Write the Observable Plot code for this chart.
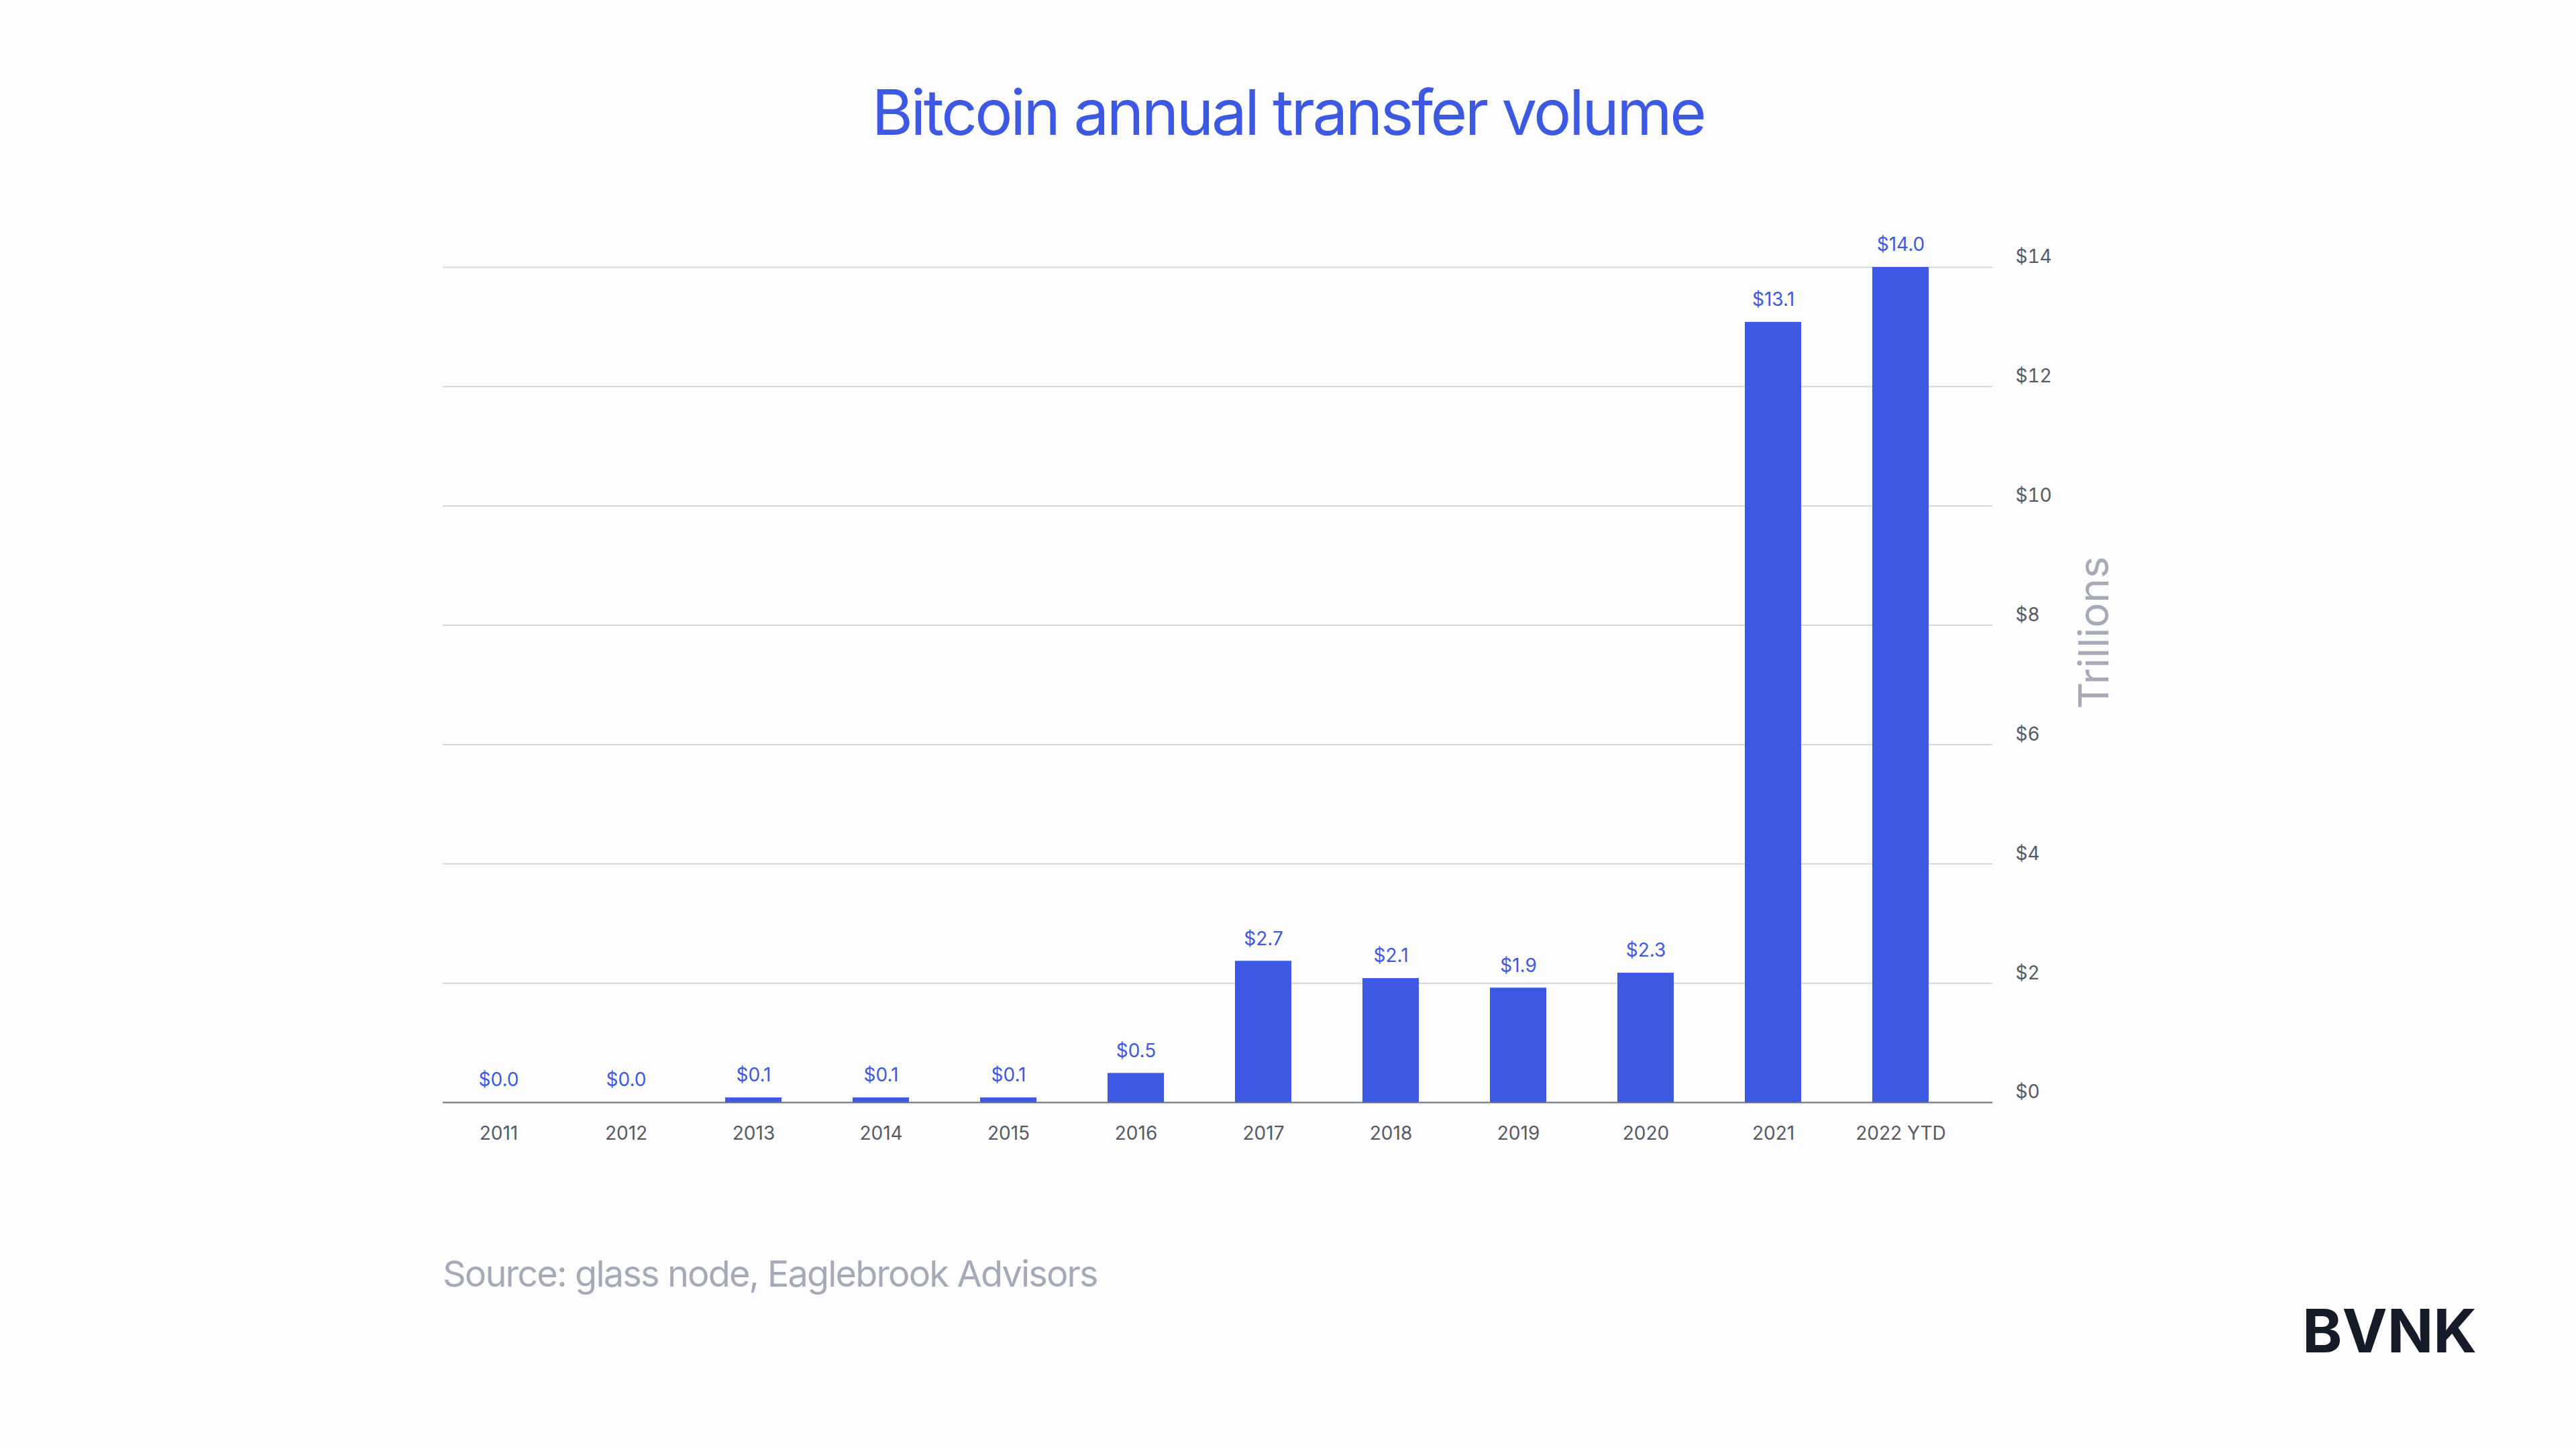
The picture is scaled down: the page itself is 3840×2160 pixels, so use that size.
<!DOCTYPE html>
<html>
<head>
<meta charset="utf-8">
<script src="https://cdn.jsdelivr.net/npm/d3@7"></script>
<script src="https://cdn.jsdelivr.net/npm/@observablehq/plot@0.6"></script>
<style>
  body { margin: 0; background: #ffffff; }
  #page { position: relative; width: 3840px; height: 2160px; background: #fdfdfe; font-family: Inter, "Noto Sans", sans-serif; overflow: hidden; }
  #title { position: absolute; top: 110px; left: 0; width: 3840px; text-align: center; font-size: 94px; color: #3d59e2; letter-spacing: -3.5px; }
  #chart { position: absolute; top: 0; left: 0; }
  #unit { position: absolute; left: 3120px; top: 943px; transform: translate(-50%, -50%) rotate(-90deg); font-size: 62px; color: #a6aab8; white-space: nowrap; }
  #source { position: absolute; left: 660px; top: 1866px; font-size: 54px; color: #a6aab8; letter-spacing: -1.8px; }
  #logo { position: absolute; left: 3432px; top: 1929px; font-size: 90px; font-weight: 700; color: #151b28; letter-spacing: 0px; }
</style>
</head>
<body>
<div id="page">
  <div id="title">Bitcoin annual transfer volume</div>
  <div id="chart"></div>
  <div id="unit">Trillions</div>
  <div id="source">Source: glass node, Eaglebrook Advisors</div>
  <div id="logo">BVNK</div>
</div>
<script>
// years on the x axis
const years = ["2011", "2012", "2013", "2014", "2015", "2016", "2017", "2018", "2019", "2020", "2021", "2022 YTD"];
// bar heights as drawn (trillions USD)
const volume = [0, 0, 0.08, 0.08, 0.08, 0.49, 2.37, 2.08, 1.92, 2.17, 13.08, 14.0];
// labels printed above bars
const labels = ["$0.0", "$0.0", "$0.1", "$0.1", "$0.1", "$0.5", "$2.7", "$2.1", "$1.9", "$2.3", "$13.1", "$14.0"];
const yTicks = [0, 2, 4, 6, 8, 10, 12, 14];

const data = years.map((y, i) => ({year: y, value: volume[i], label: labels[i]}));
const blue = "#3d59e2";

const chart = Plot.plot({
  width: 3840,
  height: 1800,
  marginTop: 398,
  marginBottom: 157,
  marginLeft: 660,
  marginRight: 870,
  style: {background: "transparent", fontFamily: "Inter, 'Noto Sans', sans-serif"},
  x: {domain: years, range: [644, 2931], paddingInner: 0.56, paddingOuter: 0.28, label: null},
  y: {domain: [0, 14], label: null},
  marks: [
    Plot.gridY(yTicks, {stroke: "#d5d6dc", strokeOpacity: 1, strokeWidth: 2}),
    Plot.barY(data, {x: "year", y: "value", fill: blue}),
    Plot.ruleY([0], {stroke: "#6e7180", strokeWidth: 2}),
    Plot.text(data, {x: "year", y: "value", text: "label", dy: -33, fill: blue, fontSize: 28}),
    Plot.axisY(yTicks, {anchor: "right", tickSize: 0, tickPadding: 34, dy: -15, fontSize: 28, fill: "#555a66", tickFormat: d => "$" + d, label: null}),
    Plot.axisX({tickSize: 0, tickPadding: 36, fontSize: 28, fill: "#555a66", label: null})
  ]
});

d3.select("#chart").append(() => chart);
</script>
</body>
</html>
